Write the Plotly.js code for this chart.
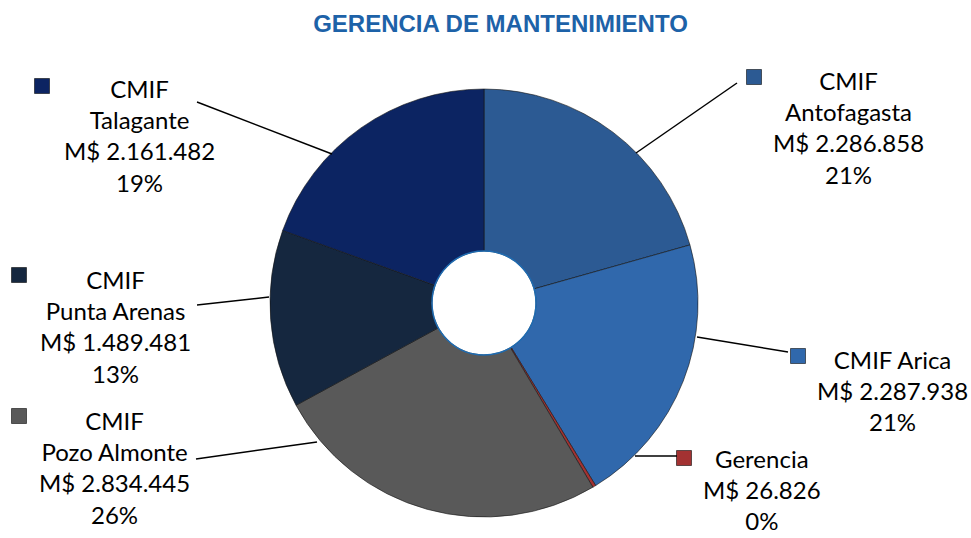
<!DOCTYPE html>
<html>
<head>
<meta charset="utf-8">
<script src="https://cdn.plot.ly/plotly-3.0.1.min.js"></script>
<style>html,body{margin:0;padding:0;background:#fff;}#chart{width:971px;height:538px;}</style>
</head>
<body>
<div id="chart"></div>
<script>
// ---- data ----
const categories = ['CMIF Antofagasta', 'CMIF Arica', 'Gerencia', 'CMIF Pozo Almonte', 'CMIF Punta Arenas', 'CMIF Talagante'];
const values = [2286858, 2287938, 26826, 2834445, 1489481, 2161482];
const sliceColors = ['#2c5a93', '#3068ac', '#a33232', '#595959', '#15273f', '#0c2462'];
const chartTitle = 'GERENCIA DE MANTENIMIENTO';

// ---- layout helpers (pixel -> paper) ----
const W = 971, H = 538;
const px = x => x / W;
const py = y => 1 - y / H;

const total = values.reduce((a, b) => a + b, 0);
const fmt = v => String(v).replace(/\B(?=(\d{3})+(?!\d))/g, '.');
const displayName = n => (n === 'CMIF Arica' ? n : n.replace(/^CMIF /, 'CMIF<br>'));

// label layout: block centre, marker centre, leader line (pixels)
const labelPos = [
  {cx: 848, cy: 127, mx: 754, my: 77,  line: [[636,153],[737,83]]},
  {cx: 892, cy: 390, mx: 798, my: 356, line: [[697,337],[788,352]]},
  {cx: 762, cy: 489, mx: 684, my: 458, line: [[635,456],[677,456]]},
  {cx: 114, cy: 467, mx: 19,  my: 416, line: [[317,442],[196,459]]},
  {cx: 115, cy: 326, mx: 19,  my: 275, line: [[269,297],[197,305]]},
  {cx: 139, cy: 136, mx: 42,  my: 86,  line: [[332,154],[197,102]]}
];

// pie geometry
const pcx = 484, pcy = 303, pr = 214, holeR = 52;

const trace = {
  type: 'pie',
  labels: categories,
  values: values,
  sort: false,
  direction: 'clockwise',
  rotation: 0,
  hole: holeR / pr,
  textinfo: 'none',
  hoverinfo: 'label+value+percent',
  marker: {colors: sliceColors, line: {color: 'rgba(20,20,20,0.6)', width: 1}},
  domain: {x: [px(pcx - pr), px(pcx + pr)], y: [py(pcy + pr), py(pcy - pr)]},
  showlegend: false
};

const annotations = [];
const shapes = [];
categories.forEach((c, i) => {
  const p = labelPos[i];
  const pct = Math.round(values[i] / total * 100);
  annotations.push({
    xref: 'paper', yref: 'paper', x: px(p.cx), y: py(p.cy),
    xanchor: 'center', yanchor: 'middle', showarrow: false, align: 'center',
    text: displayName(c) + '<br>M$ ' + fmt(values[i]) + '<br>' + pct + '%',
    font: {family: 'Lato, "Noto Sans", sans-serif', size: 24, color: '#000'}
  });
  shapes.push({
    type: 'rect', xref: 'paper', yref: 'paper',
    x0: px(p.mx - 7.5), x1: px(p.mx + 7.5), y0: py(p.my + 7.5), y1: py(p.my - 7.5),
    fillcolor: sliceColors[i], line: {color: 'rgba(0,0,0,0.55)', width: 1}
  });
  shapes.push({
    type: 'line', xref: 'paper', yref: 'paper',
    x0: px(p.line[0][0]), y0: py(p.line[0][1]), x1: px(p.line[1][0]), y1: py(p.line[1][1]),
    line: {color: '#000', width: 1.5}
  });
});
// hole outline
shapes.push({
  type: 'circle', xref: 'paper', yref: 'paper',
  x0: px(pcx - holeR), x1: px(pcx + holeR), y0: py(pcy + holeR), y1: py(pcy - holeR),
  line: {color: '#1f6cb2', width: 1.5}, fillcolor: 'rgba(0,0,0,0)'
});

const layout = {
  width: W, height: H,
  margin: {l: 0, r: 0, t: 0, b: 0},
  paper_bgcolor: '#fff', plot_bgcolor: '#fff',
  title: {
    text: '<b>' + chartTitle + '</b>',
    x: px(500.5), xanchor: 'center', y: py(24), yanchor: 'middle', yref: 'container',
    font: {family: '"Liberation Sans", Arial, sans-serif', size: 24, color: '#1d62a8'}
  },
  annotations: annotations,
  shapes: shapes
};

Plotly.newPlot('chart', [trace], layout, {displayModeBar: false, staticPlot: true});
</script>
</body>
</html>
